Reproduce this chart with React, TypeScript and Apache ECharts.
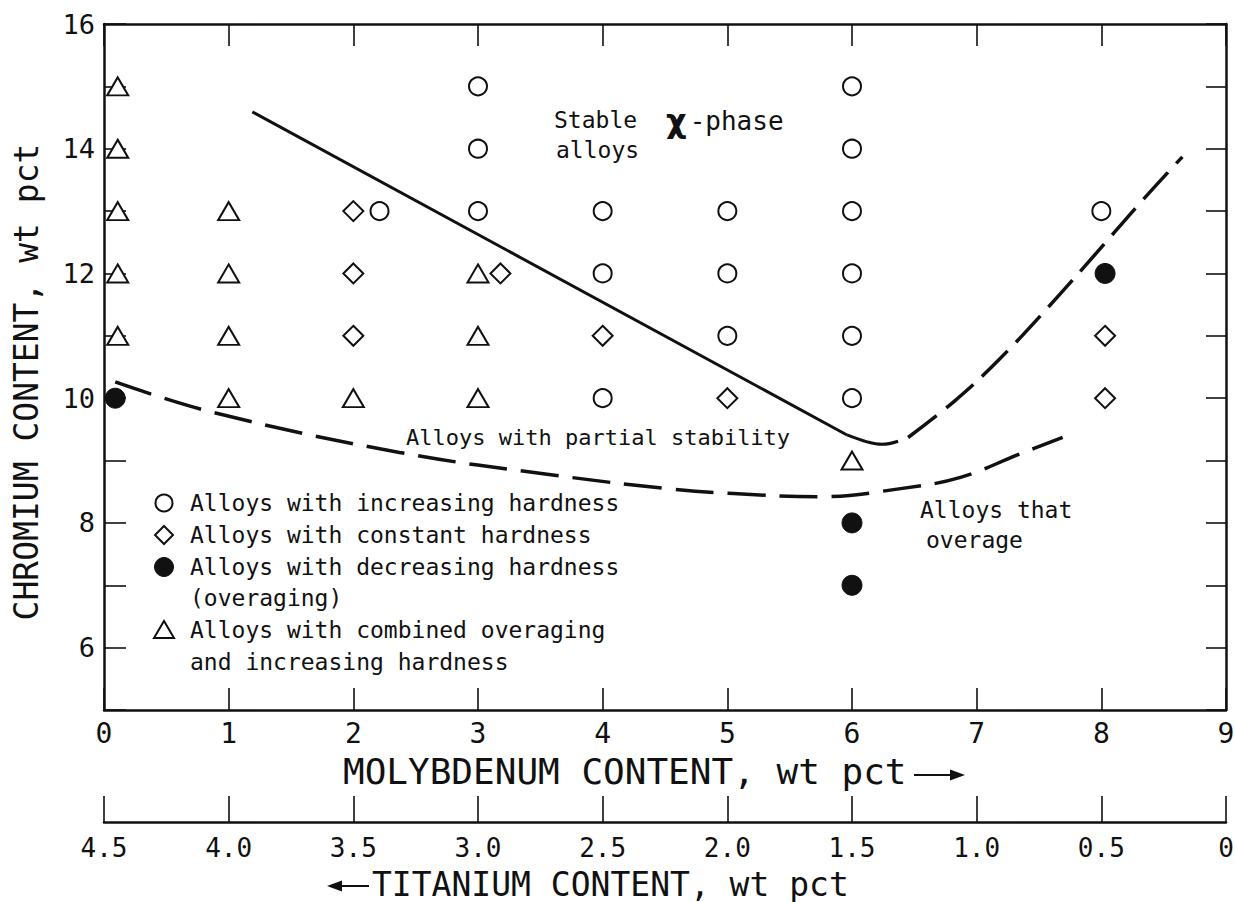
import React, { useEffect, useRef } from "react";
import * as echarts from "echarts";

// ---- data (Mo wt pct, Cr wt pct) ----
const moTicks = [0, 1, 2, 3, 4, 5, 6, 7, 8, 9];
const tiTicks = ["4.5", "4.0", "3.5", "3.0", "2.5", "2.0", "1.5", "1.0", "0.5", "0"];

const increasingHardness: number[][] = [
  [2.21, 13], [3, 15], [3, 14], [3, 13], [4, 13], [4, 12], [4, 10],
  [5, 13], [5, 12], [5, 11], [6, 15], [6, 14], [6, 13], [6, 12], [6, 11], [6, 10], [8, 13],
];
const constantHardness: number[][] = [
  [2, 13], [2, 12], [2, 11], [3.18, 12], [4, 11], [5, 10], [8.03, 11], [8.03, 10],
];
const decreasingHardness: number[][] = [
  [0.09, 10], [6, 8], [6, 7], [8.03, 12],
];
const combinedHardness: number[][] = [
  [0.11, 15], [0.11, 14], [0.11, 13], [0.11, 12], [0.11, 11],
  [1, 13], [1, 12], [1, 11], [1, 10], [2, 10], [3, 12], [3, 11], [3, 10], [6, 9],
];

// boundary curves
const stableBoundaryStraight: number[][] = [[1.19, 14.59], [5.96, 9.41]];
const stableBoundaryBend: number[][] = [[5.96, 9.41], [6.12, 9.3], [6.24, 9.26], [6.37, 9.31]];
const overageBoundaryUpper: number[][] = [
  [6.45, 9.37], [6.82, 9.95], [7.17, 10.6], [7.57, 11.45], [7.97, 12.35], [8.32, 13.15], [8.65, 13.87],
];
const partialBoundaryLower: number[][] = [
  [0.09, 10.26], [0.88, 9.77], [2.37, 9.13], [3.63, 8.76], [4.57, 8.54], [5.05, 8.47],
  [5.74, 8.42], [6.39, 8.55], [6.87, 8.73], [7.35, 9.11], [7.69, 9.37],
];

const legendItems = [
  "Alloys with increasing hardness",
  "Alloys with constant hardness",
  "Alloys with decreasing hardness",
  "(overaging)",
  "Alloys with combined overaging",
  "and increasing hardness",
];

const INK = "#111";
const MONO = "'DejaVu Sans Mono', monospace";

export default function App() {
  const ref = useRef<HTMLDivElement>(null);
  useEffect(() => {
    if (!ref.current) return;
    const chart = echarts.init(ref.current, null, { renderer: "svg" });

    const axisLine = { show: true, onZero: false, lineStyle: { color: INK, width: 2.5 } };
    const tick = (len: number) => ({ show: true, inside: true, length: len, lineStyle: { color: INK, width: 1.6 } });

    const scatterBase = {
      type: "scatter",
      xAxisIndex: 0,
      yAxisIndex: 0,
      z: 5,
    };

    const legendY = [503, 535, 567, 598, 630, 662];
    const mx = 164;

    const graphic: any[] = [
      // legend markers
      { type: "circle", shape: { cx: mx, cy: legendY[0], r: 8.5 }, style: { fill: "#fff", stroke: INK, lineWidth: 2 } },
      { type: "polygon", shape: { points: [[mx, legendY[1] - 9], [mx + 9, legendY[1]], [mx, legendY[1] + 9], [mx - 9, legendY[1]]] }, style: { fill: "#fff", stroke: INK, lineWidth: 2 } },
      { type: "circle", shape: { cx: mx, cy: legendY[2], r: 9.5 }, style: { fill: INK, stroke: INK, lineWidth: 1 } },
      { type: "polygon", shape: { points: [[mx, legendY[4] - 9], [mx + 10, legendY[4] + 8], [mx - 10, legendY[4] + 8]] }, style: { fill: "#fff", stroke: INK, lineWidth: 2 } },
      ...legendItems.map((t, i) => ({
        type: "text", x: 190, y: legendY[i],
        style: { text: t, fontSize: 23, fontFamily: MONO, fill: INK, align: "left", verticalAlign: "middle" },
      })),
      // annotations
      { type: "text", x: 554, y: 120, style: { text: "Stable", fontSize: 23, fontFamily: MONO, fill: INK, align: "left", verticalAlign: "middle" } },
      { type: "text", x: 556, y: 150, style: { text: "alloys", fontSize: 23, fontFamily: MONO, fill: INK, align: "left", verticalAlign: "middle" } },
      {
        type: "text", x: 666, y: 121,
        style: {
          text: "{c|χ}{p|-phase}", align: "left", verticalAlign: "middle",
          rich: {
            c: { fontSize: 32, fontWeight: "bold", fontFamily: "'DejaVu Sans', sans-serif", fill: INK },
            p: { fontSize: 26, fontFamily: MONO, fill: INK, padding: [0, 0, 0, 3] },
          },
        },
      },
      { type: "text", x: 406, y: 437, style: { text: "Alloys with partial stability", fontSize: 22, fontFamily: MONO, fill: INK, align: "left", verticalAlign: "middle" } },
      { type: "text", x: 920, y: 510, style: { text: "Alloys that", fontSize: 23, fontFamily: MONO, fill: INK, align: "left", verticalAlign: "middle" } },
      { type: "text", x: 926, y: 540, style: { text: "overage", fontSize: 23, fontFamily: MONO, fill: INK, align: "left", verticalAlign: "middle" } },
      // axis titles
      { type: "text", x: 343, y: 771, style: { text: "MOLYBDENUM CONTENT, wt pct", fontSize: 36, fontFamily: MONO, fill: INK, align: "left", verticalAlign: "middle" } },
      { type: "line", shape: { x1: 914, y1: 775, x2: 952, y2: 775 }, style: { stroke: INK, lineWidth: 2 } },
      { type: "polygon", shape: { points: [[950, 769.5], [965, 775], [950, 780.5]] }, style: { fill: INK } },
      { type: "text", x: 372, y: 884, style: { text: "TITANIUM CONTENT, wt pct", fontSize: 33, fontFamily: MONO, fill: INK, align: "left", verticalAlign: "middle" } },
      { type: "line", shape: { x1: 340, y1: 886, x2: 369, y2: 886 }, style: { stroke: INK, lineWidth: 2 } },
      { type: "polygon", shape: { points: [[342, 880.5], [327, 886], [342, 891.5]] }, style: { fill: INK } },
      { type: "text", x: 26, y: 382, rotation: Math.PI / 2, style: { text: "CHROMIUM CONTENT, wt pct", fontSize: 33, fontFamily: MONO, fill: INK, align: "center", verticalAlign: "middle" } },
    ];

    const option: any = {
      animation: false,
      backgroundColor: "#fff",
      grid: [
        { left: 104, right: 9, top: 24, bottom: 192, containLabel: false, outerBoundsMode: "none" },
        { left: 104, right: 9, top: 821, height: 1, containLabel: false, outerBoundsMode: "none" },
      ],
      xAxis: [
        {
          type: "value", gridIndex: 0, position: "bottom", min: 0, max: 9, interval: 1,
          axisLine, axisTick: tick(22), splitLine: { show: false },
          axisLabel: {
            show: true, margin: 9, fontSize: 28, fontFamily: MONO, color: INK,
            showMinLabel: true, showMaxLabel: true,
            formatter: (v: number) => String(moTicks[Math.round(v)] ?? v),
          },
        },
        {
          type: "value", gridIndex: 0, position: "top", min: 0, max: 9, interval: 1,
          axisLine, axisTick: tick(22), splitLine: { show: false }, axisLabel: { show: false },
        },
        {
          type: "value", gridIndex: 1, position: "bottom", min: 0, max: 4.5, interval: 0.5, inverse: true,
          axisLine, axisTick: tick(26), splitLine: { show: false },
          axisLabel: {
            show: true, margin: 13, fontSize: 26, fontFamily: MONO, color: INK,
            showMinLabel: true, showMaxLabel: true,
            formatter: (v: number) => tiTicks[Math.round((4.5 - v) * 2)] ?? String(v),
          },
        },
      ],
      yAxis: [
        {
          type: "value", gridIndex: 0, position: "left", min: 5, max: 16, interval: 1,
          axisLine, axisTick: tick(22), splitLine: { show: false },
          axisLabel: {
            show: true, margin: 9, fontSize: 27, fontFamily: MONO, color: INK,
            showMinLabel: true, showMaxLabel: true,
            formatter: (v: number) => (Math.round(v) % 2 === 0 ? String(v) : ""),
          },
        },
        {
          type: "value", gridIndex: 0, position: "right", min: 5, max: 16, interval: 1,
          axisLine, axisTick: tick(20), splitLine: { show: false }, axisLabel: { show: false },
        },
        { type: "value", gridIndex: 1, show: false, min: 0, max: 1 },
      ],
      series: [
        {
          type: "line", xAxisIndex: 0, yAxisIndex: 0, data: stableBoundaryStraight, symbol: "none",
          lineStyle: { color: INK, width: 3 }, z: 3,
        },
        {
          type: "line", xAxisIndex: 0, yAxisIndex: 0, data: stableBoundaryBend, symbol: "none", smooth: 0.4,
          lineStyle: { color: INK, width: 3 }, z: 3,
        },
        {
          type: "line", xAxisIndex: 0, yAxisIndex: 0, data: overageBoundaryUpper, symbol: "none", smooth: 0.4,
          lineStyle: { color: INK, width: 3.5, type: [36, 12] }, z: 3,
        },
        {
          type: "line", xAxisIndex: 0, yAxisIndex: 0, data: partialBoundaryLower, symbol: "none", smooth: 0.4,
          lineStyle: { color: INK, width: 3.5, type: [38, 14] }, z: 3,
        },
        {
          ...scatterBase, name: "increasing", data: increasingHardness, symbol: "circle", symbolSize: 18,
          itemStyle: { color: "#fff", borderColor: INK, borderWidth: 2, opacity: 1 },
        },
        {
          ...scatterBase, name: "constant", data: constantHardness, symbol: "diamond", symbolSize: [20, 20],
          itemStyle: { color: "#fff", borderColor: INK, borderWidth: 2, opacity: 1 },
        },
        {
          ...scatterBase, name: "decreasing", data: decreasingHardness, symbol: "circle", symbolSize: 20,
          itemStyle: { color: INK, borderColor: INK, borderWidth: 1, opacity: 1 },
        },
        {
          ...scatterBase, name: "combined", data: combinedHardness, symbol: "triangle", symbolSize: [21, 18],
          itemStyle: { color: "#fff", borderColor: INK, borderWidth: 2, opacity: 1 },
        },
      ],
      graphic,
    };

    chart.setOption(option);
    return () => chart.dispose();
  }, []);

  return (
    <div
      ref={ref}
      style={{ position: "absolute", left: 0, top: 0, width: 1235, height: 902, background: "#fff" }}
    />
  );
}
